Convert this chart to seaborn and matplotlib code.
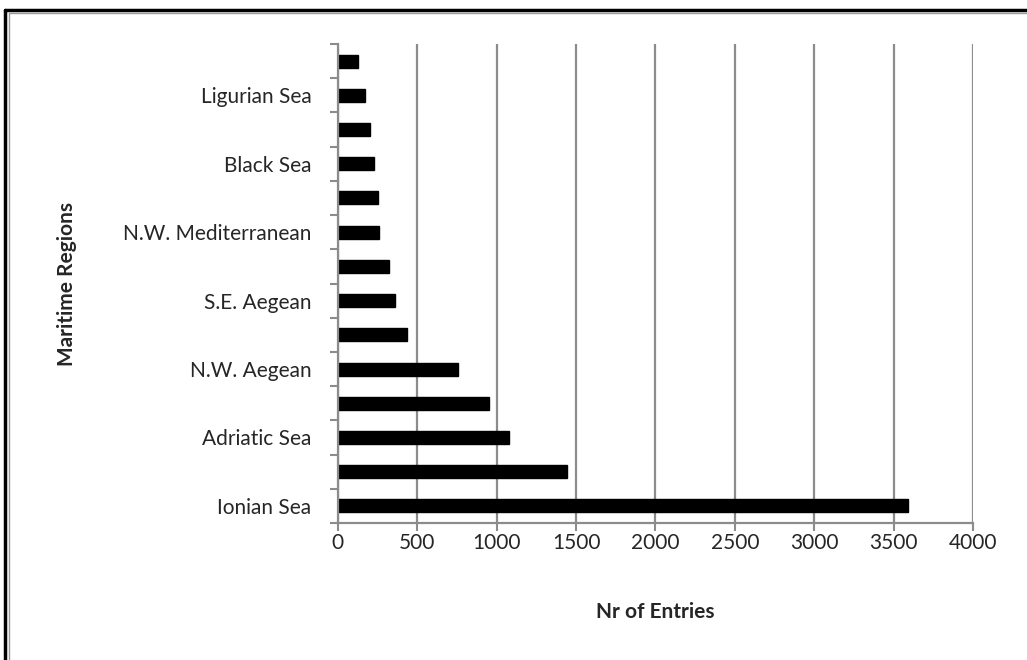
import matplotlib
matplotlib.use('Agg')
import matplotlib.pyplot as plt
import seaborn as sns
import pandas as pd
from matplotlib.lines import Line2D

# dati (dall'alto verso il basso)
row_ids = ['r%02d' % i for i in range(14)]
region_labels = ['', 'Ligurian Sea', '', 'Black Sea', '', 'N.W. Mediterranean', '',
                 'S.E. Aegean', '', 'N.W. Aegean', '', 'Adriatic Sea', '', 'Ionian Sea']
entries = [126, 172, 203, 227, 250, 258, 325, 360, 435, 755, 950, 1075, 1440, 3590]
x_ticks = [0, 500, 1000, 1500, 2000, 2500, 3000, 3500, 4000]

df = pd.DataFrame({'row': row_ids, 'entries': entries})

sns.set_style('white')
plt.rcParams['font.family'] = ['Lato', 'DejaVu Sans']

fig = plt.figure(figsize=(10.27, 6.6), dpi=100)
ax = fig.add_axes([0.329, 0.2076, 0.6184, 0.7257])

sns.barplot(data=df, x='entries', y='row', order=row_ids, orient='h',
            color='black', width=0.38, edgecolor='black', saturation=1, ax=ax)

ax.set_xlim(0, 4000)
ax.set_ylim(13.5, -0.5)
ax.set_xticks(x_ticks)
ax.set_xticklabels([str(t) for t in x_ticks], fontsize=15)
ax.set_yticks(range(14))
ax.set_yticklabels(region_labels, fontsize=15)
ax.set_yticks([i - 0.5 for i in range(15)], minor=True)
ax.tick_params(axis='y', which='major', length=0, pad=19)
ax.tick_params(axis='y', which='minor', length=6, width=1.5, color='#8c8c8c', left=True)
ax.tick_params(axis='x', length=6, width=1.5, color='#8c8c8c', bottom=True, pad=1)

ax.grid(axis='x', color='#8c8c8c', linewidth=1.6)
ax.set_axisbelow(True)
for s in ['top', 'right']:
    ax.spines[s].set_visible(False)
for s in ['left', 'bottom']:
    ax.spines[s].set_color('#8c8c8c')
    ax.spines[s].set_linewidth(1.6)

ax.set_xlabel('Nr of Entries', fontsize=15, fontweight='bold')
ax.set_ylabel('Maritime Regions', fontsize=15, fontweight='bold')
ax.xaxis.set_label_coords(0.5, -0.165)
ax.yaxis.set_label_coords(-0.411, 0.5)

# cornice esterna
fig.add_artist(Line2D([0.005, 0.005], [0, 0.985], color='black', linewidth=2.5, transform=fig.transFigure))
fig.add_artist(Line2D([0.005, 1], [0.985, 0.985], color='black', linewidth=2.5, transform=fig.transFigure))
fig.add_artist(Line2D([0.0085, 0.0085], [0, 0.981], color='#999999', linewidth=1, transform=fig.transFigure))
fig.add_artist(Line2D([0.0085, 1], [0.981, 0.981], color='#999999', linewidth=1, transform=fig.transFigure))

fig.savefig('out.png', dpi=100)
